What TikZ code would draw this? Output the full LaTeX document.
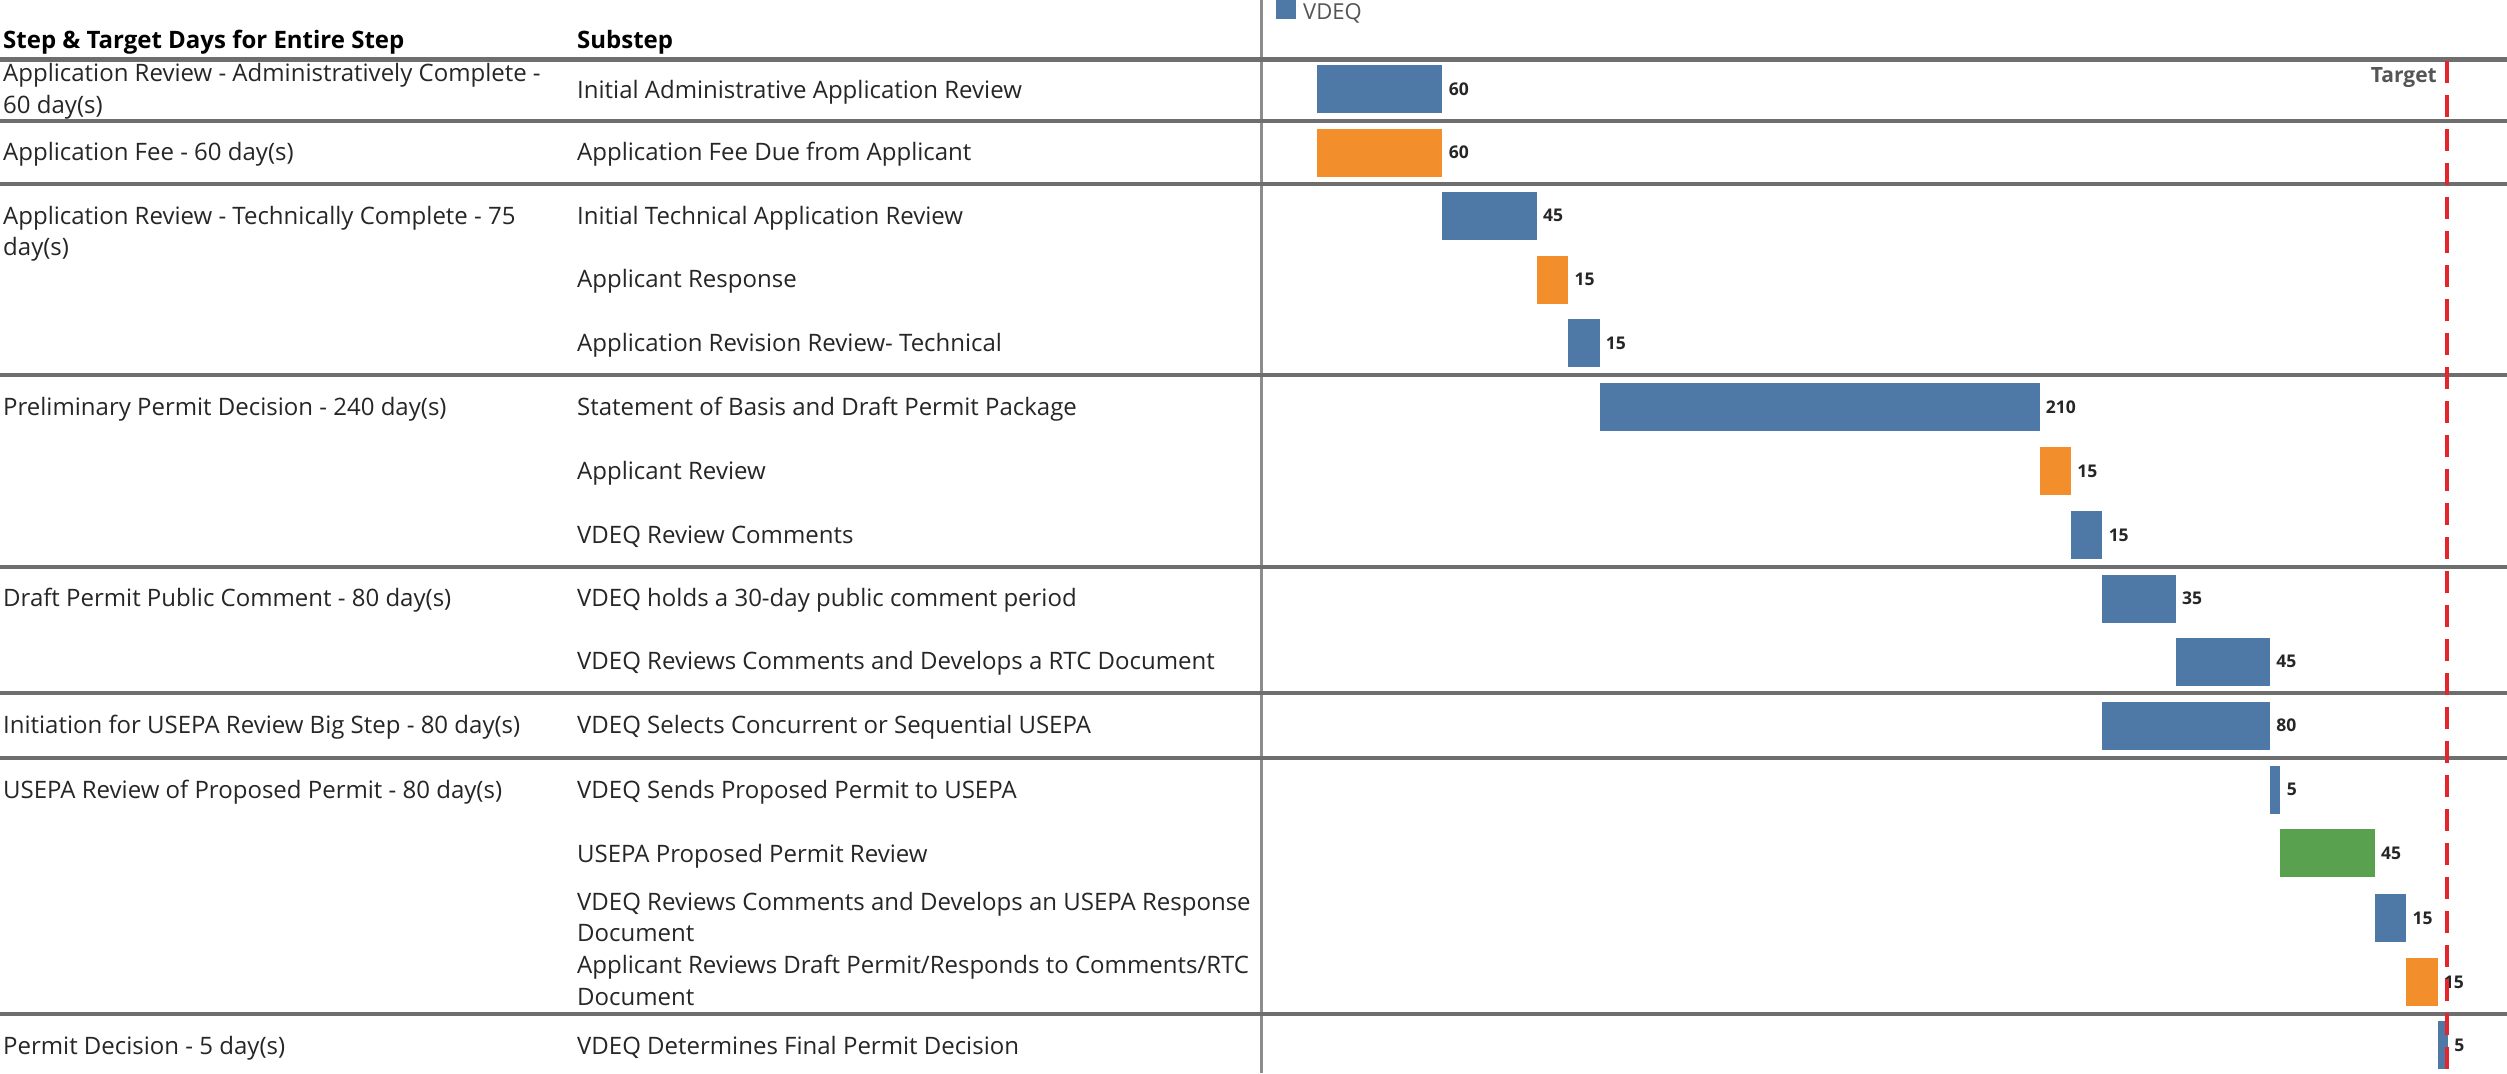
\documentclass[tikz,border=0pt]{standalone}
\usepackage{fontspec}
\setmainfont{Open Sans}
\definecolor{tblue}{HTML}{4E79A7}
\definecolor{torange}{HTML}{F28E2B}
\definecolor{tgreen}{HTML}{59A14F}
\definecolor{tred}{HTML}{E3262E}
\definecolor{sepgray}{HTML}{6E6E6E}
\definecolor{vgray}{HTML}{8C8C8C}
\definecolor{txt}{HTML}{262626}
\definecolor{lgtxt}{HTML}{555555}
\begin{document}
\begin{tikzpicture}[x=1pt,y=-1pt,
  body/.style={anchor=base west, inner sep=0pt, text=txt, font=\fontsize{24}{30}\selectfont},
  head/.style={anchor=base west, inner sep=0pt, text=black, font=\fontsize{24}{30}\selectfont\bfseries},
  barbox/.style={anchor=west, inner sep=0pt, minimum height=48pt, draw=none},
  vlbl/.style={anchor=west, inner sep=0pt, text=txt, font=\fontsize{17.5}{20}\selectfont\bfseries, xshift=6pt},
  sep/.style={draw=sepgray, line width=4.5pt},
]
\fill[white] (0,0) rectangle (2507,1073);
\useasboundingbox (0,0) rectangle (2507,1073);

% vertical divider
\draw[vgray, line width=3pt] (1261,0) -- (1261,1073);
% separators
\foreach \yy in {59.5,121,184,375,567,693,758,1014}
  \draw[sep] (0,\yy) -- (2507,\yy);

% header
\node[head] (hstep) at (3,48.3) {Step \& Target Days for Entire Step};
\node[head] (hsub) at (577,48.3) {Substep};

% legend
\node[fill=tblue, minimum size=20pt, inner sep=0pt, anchor=south west] (legsq) at (1276,19) {};
\node[anchor=base west, inner sep=0pt, text=lgtxt, font=\fontsize{22}{26}\selectfont] (legtx) at (1303,19.3) {VDEQ};

% step column
\node[body] (s0a) at (3,81.7) {Application Review - Administratively Complete -};
\node[body] (s0b) at (3,113.3) {60 day(s)};
\node[body] (s1) at (3,160.5) {Application Fee - 60 day(s)};
\node[body] (s2a) at (3,224.5) {Application Review - Technically Complete - 75};
\node[body] (s2b) at (3,255.5) {day(s)};
\node[body] (s3) at (3,415) {Preliminary Permit Decision - 240 day(s)};
\node[body] (s4) at (3,606.5) {Draft Permit Public Comment - 80 day(s)};
\node[body] (s5) at (3,733.5) {Initiation for USEPA Review Big Step - 80 day(s)};
\node[body] (s6) at (3,798) {USEPA Review of Proposed Permit - 80 day(s)};
\node[body] (s7) at (3,1054) {Permit Decision - 5 day(s)};

% substep column
\node[body] (t0) at (577,98) {Initial Administrative Application Review};
\node[body] (t1) at (577,160.5) {Application Fee Due from Applicant};
\node[body] (t2) at (577,224.5) {Initial Technical Application Review};
\node[body] (t3) at (577,287.5) {Applicant Response};
\node[body] (t4) at (577,351.2) {Application Revision Review- Technical};
\node[body] (t5) at (577,415) {Statement of Basis and Draft Permit Package};
\node[body] (t6) at (577,479) {Applicant Review};
\node[body] (t7) at (577,543) {VDEQ Review Comments};
\node[body] (t8) at (577,606.5) {VDEQ holds a 30-day public comment period};
\node[body] (t9) at (577,669.5) {VDEQ Reviews Comments and Develops a RTC Document};
\node[body] (t10) at (577,733.5) {VDEQ Selects Concurrent or Sequential USEPA};
\node[body] (t11) at (577,798) {VDEQ Sends Proposed Permit to USEPA};
\node[body] (t12) at (577,862) {USEPA Proposed Permit Review};
\node[body] (t13a) at (577,910) {VDEQ Reviews Comments and Develops an USEPA Response};
\node[body] (t13b) at (577,941.7) {Document};
\node[body] (t14a) at (577,973.3) {Applicant Reviews Draft Permit/Responds to Comments/RTC};
\node[body] (t14b) at (577,1005) {Document};
\node[body] (t15) at (577,1054) {VDEQ Determines Final Permit Decision};

% bars: x(d) = 1316.5 + 2.095 d
\foreach \nm/\st/\du/\yc/\col in {
  b0/0/60/89/tblue, b1/0/60/152.5/torange, b2/60/45/215.8/tblue,
  b3/105/15/279.5/torange, b4/120/15/343.2/tblue, b5/135/210/407/tblue,
  b6/345/15/471/torange, b7/360/15/535/tblue, b8/375/35/598.5/tblue,
  b9/410/45/661.5/tblue, b10/375/80/725.5/tblue, b11/455/5/789.5/tblue,
  b12/460/45/853/tgreen, b13/505/15/918/tblue, b14/520/15/982/torange,
  b15/535/5/1045/tblue}
{
  \node[barbox, fill=\col, minimum width={2.095*\du*1pt}] (\nm) at ({1316.5+2.095*\st},\yc) {};
  \node[vlbl] (l\nm) at (\nm.east) {\du};
}

% target
\node[anchor=base east, inner sep=0pt, text=lgtxt, font=\fontsize{21}{24}\selectfont\bfseries] (tgt) at (2437,82.3) {Target};
\coordinate (tgtTop) at (2447,61);
\coordinate (tgtBot) at (2447,1073);
\draw[tred, line width=4pt, dash pattern=on 22pt off 12pt] (tgtTop) -- (tgtBot);
\end{tikzpicture}
\end{document}
